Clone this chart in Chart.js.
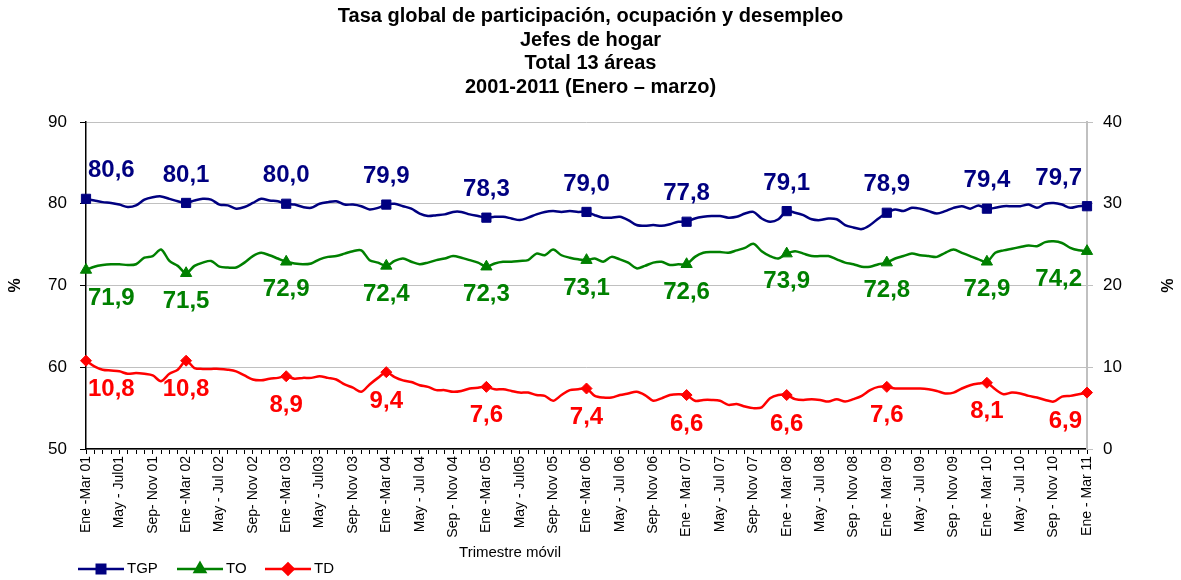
<!DOCTYPE html>
<html><head><meta charset="utf-8">
<script src="https://cdn.jsdelivr.net/npm/chart.js@4.4.0/dist/chart.umd.min.js"></script>
<style>html,body{margin:0;padding:0;background:#fff}canvas{display:block}</style>
</head><body>
<canvas id="c" width="1181" height="580"></canvas>
<script>
// ---- Data ----
const monthAbbr = ['Ene','Feb','Mar','Abr','May','Jun','Jul','Ago','Sep','Oct','Nov','Dic'];
const tickLabels = [
 'Ene -Mar 01','May - Jul01','Sep- Nov 01',
 'Ene -Mar 02','May - Jul 02','Sep- Nov 02',
 'Ene -Mar 03','May - Jul03','Sep- Nov 03',
 'Ene -Mar 04','May - Jul 04','Sep - Nov 04',
 'Ene -Mar 05','May - Jul05','Sep- Nov 05',
 'Ene -Mar 06','May - Jul 06','Sep- Nov 06',
 'Ene - Mar 07','May - Jul 07','Sep- Nov 07',
 'Ene - Mar 08','May - Jul 08','Sep - Nov 08',
 'Ene - Mar 09','May - Jul 09','Sep - Nov 09',
 'Ene - Mar 10','May - Jul 10','Sep - Nov 10',
 'Ene - Mar 11'
];
const categories = [];
for (let k = 0; k <= 120; k++) {
  const y = 2001 + Math.floor((k + 2) / 12);
  categories.push(monthAbbr[k % 12] + ' - ' + monthAbbr[(k + 2) % 12] + ' ' + String(y).slice(2));
}
const tgp = [
 80.6,80.4,80.2,80.1,79.9,79.6,79.8,80.5,80.8,80.9,80.6,80.3,
 80.1,80.4,80.6,80.5,79.9,79.8,79.4,79.6,80.1,80.6,80.4,80.3,
 80.0,79.9,79.6,79.5,80.0,80.2,80.3,79.9,79.9,79.7,79.3,79.5,
 79.9,80.0,79.7,79.4,78.8,78.5,78.6,78.7,79.0,79.0,78.7,78.5,
 78.3,78.4,78.4,78.2,78.0,78.3,78.7,79.0,79.1,79.0,79.1,79.0,
 79.0,78.6,78.3,78.3,78.4,78.0,77.4,77.3,77.4,77.3,77.5,77.8,
 77.8,78.2,78.4,78.5,78.5,78.3,78.4,78.8,79.0,78.2,77.8,78.1,
 79.1,78.9,78.6,78.1,78.0,78.2,78.1,77.4,77.1,76.9,77.4,78.2,
 78.9,79.3,79.1,79.5,79.4,79.1,78.8,79.1,79.5,79.7,79.4,79.8,
 79.4,79.5,79.7,79.7,79.7,79.9,79.5,80.0,80.1,79.9,79.5,79.7,
 79.7
];
const to = [
 71.9,72.3,72.5,72.6,72.6,72.5,72.6,73.4,73.6,74.4,73.0,72.4,
 71.5,72.4,72.8,73.0,72.3,72.2,72.2,72.8,73.6,74.0,73.7,73.3,
 72.9,72.7,72.6,72.7,73.2,73.5,73.6,73.9,74.2,74.3,73.1,72.8,
 72.4,73.0,73.3,72.9,72.6,72.8,73.1,73.3,73.6,73.4,73.1,72.8,
 72.3,72.7,72.9,72.9,73.0,73.1,73.9,73.7,74.4,73.7,73.4,73.2,
 73.1,73.3,72.9,73.5,73.2,72.8,72.1,72.4,72.8,72.9,72.5,72.6,
 72.6,73.5,74.0,74.1,74.1,74.0,74.3,74.6,75.1,74.2,73.6,73.3,
 73.9,74.2,73.9,73.6,73.6,73.6,73.2,72.8,72.6,72.3,72.3,72.6,
 72.8,73.3,73.6,73.9,73.7,73.6,73.5,74.0,74.4,74.0,73.6,73.2,
 72.9,74.0,74.3,74.5,74.7,74.9,74.8,75.3,75.4,75.2,74.6,74.3,
 74.2
];
const td = [
 10.8,10.1,9.7,9.6,9.5,9.2,9.3,9.2,9.0,8.3,9.2,9.7,
 10.8,9.9,9.8,9.8,9.8,9.7,9.5,9.0,8.5,8.4,8.6,8.7,
 8.9,8.6,8.7,8.7,8.9,8.7,8.5,7.9,7.5,7.0,7.9,8.7,
 9.4,8.8,8.4,8.2,7.8,7.6,7.2,7.2,7.0,7.1,7.4,7.5,
 7.6,7.3,7.3,7.1,6.9,6.9,6.6,6.5,5.9,6.6,7.2,7.3,
 7.4,6.5,6.3,6.3,6.6,6.8,7.0,6.6,5.9,6.2,6.6,6.7,
 6.6,5.9,6.0,6.0,5.9,5.4,5.5,5.2,5.0,5.1,6.2,6.6,
 6.6,6.1,6.0,6.1,6.0,5.8,6.1,5.8,6.1,6.5,7.2,7.6,
 7.6,7.4,7.4,7.4,7.4,7.3,7.1,6.8,6.9,7.4,7.8,8.0,
 8.1,7.3,6.7,6.9,6.8,6.5,6.3,6.0,5.8,6.4,6.5,6.7,
 6.9
];
const leftTicks = [50, 60, 70, 80, 90];
const rightTicks = [0, 10, 20, 30, 40];
const titleLines = ['Tasa global de participación, ocupación y desempleo','Jefes de hogar','Total 13 áreas','2001-2011 (Enero – marzo)'];

// ---- Styling ----
const FONT = '"Liberation Sans", Arial, sans-serif';
Chart.defaults.font.family = FONT;
Chart.defaults.color = '#000';
const isMarker = c => c.dataIndex % 12 === 0;

const valueLabels = {
  id: 'valueLabels',
  afterDatasetsDraw(chart) {
    const ctx = chart.ctx, area = chart.chartArea;
    ctx.save();
    ctx.font = 'bold 24px ' + FONT;
    ctx.textBaseline = 'middle';
    ctx.textAlign = 'left';
    chart.data.datasets.forEach((ds, di) => {
      const meta = chart.getDatasetMeta(di);
      meta.data.forEach((pt, i) => {
        if (i % 12 !== 0) return;
        const txt = ds.data[i].toFixed(1).replace('.', ',');
        const w = ctx.measureText(txt).width;
        let x = pt.x - w / 2;
        x = Math.max(x, area.left + 2);
        x = Math.min(x, area.right - 5 - w);
        ctx.fillStyle = ds.borderColor;
        ctx.fillText(txt, x, pt.y + ds.labelOffset);
      });
    });
    ctx.restore();
  }
};

const extras = {
  id: 'extras',
  afterDraw(chart) {
    const ctx = chart.ctx;
    ctx.save();
    ctx.fillStyle = '#000';
    ctx.font = '15px ' + FONT;
    ctx.textAlign = 'center';
    ctx.textBaseline = 'middle';
    ctx.fillText('Trimestre móvil', 510, 553);
    // legend
    const items = [[78, 0], [177, 1], [265, 2]];
    const ly = 569;
    items.forEach(([x0, di]) => {
      const ds = chart.data.datasets[di];
      ctx.strokeStyle = ds.borderColor;
      ctx.lineWidth = 2.5;
      ctx.beginPath(); ctx.moveTo(x0, ly); ctx.lineTo(x0 + 46, ly); ctx.stroke();
      ctx.fillStyle = ds.borderColor;
      Chart.helpers.drawPoint(ctx, {pointStyle: ds.pointStyle, radius: ds.legendRadius, borderWidth: 1}, x0 + 23, ly);
      ctx.fillStyle = '#000';
      ctx.textAlign = 'left';
      ctx.font = '15px ' + FONT;
      ctx.fillText(ds.label, x0 + 49, ly);
    });
    ctx.restore();
  }
};

new Chart(document.getElementById('c'), {
  type: 'line',
  data: {
    labels: categories,
    datasets: [
      {label: 'TGP', data: tgp, yAxisID: 'y', borderColor: '#000080', backgroundColor: '#000080',
       pointStyle: 'rect', legendRadius: 6, labelOffset: -28,
       pointRadius: c => isMarker(c) ? 6.5 : 0},
      {label: 'TO', data: to, yAxisID: 'y', borderColor: '#008000', backgroundColor: '#008000',
       pointStyle: 'triangle', legendRadius: 6, labelOffset: 28,
       pointRadius: c => isMarker(c) ? 6.5 : 0},
      {label: 'TD', data: td, yAxisID: 'y1', borderColor: '#FF0000', backgroundColor: '#FF0000',
       pointStyle: 'rectRot', legendRadius: 5.5, labelOffset: 29,
       pointRadius: c => isMarker(c) ? 5.5 : 0}
    ]
  },
  options: {
    responsive: false,
    animation: false,
    devicePixelRatio: 1,
    layout: {padding: {left: 0, right: 0, top: 0, bottom: 26}},
    elements: {
      line: {borderWidth: 2.5, tension: 0.3},
      point: {borderWidth: 1, hoverRadius: 0}
    },
    plugins: {
      legend: {display: false},
      tooltip: {enabled: false},
      title: {display: true, text: titleLines, color: '#000',
        font: {size: 20, weight: 'bold', lineHeight: 1.175}, padding: {top: 5, bottom: 23}}
    },
    scales: {
      x: {
        offset: false,
        grid: {drawOnChartArea: false, drawTicks: true, tickLength: 5, tickColor: '#000'},
        border: {color: '#000', width: 1.5},
        ticks: {autoSkip: false, maxRotation: 90, minRotation: 90, padding: 2,
          font: {size: 14}, color: '#000',
          callback: (v, i) => i % 4 === 0 ? tickLabels[i / 4] : ''},
        afterFit: s => { s.height = 105; }
      },
      y: {
        position: 'left', min: 50, max: 90,
        afterBuildTicks: s => { s.ticks = leftTicks.map(v => ({value: v})); },
        grid: {color: '#c0c0c0', lineWidth: 1, tickLength: 6, tickColor: '#000'},
        border: {color: '#000', width: 1.5},
        ticks: {font: {size: 17}, padding: 13, color: '#000'},
        title: {display: true, text: '%', font: {size: 16, weight: 'bold'}, padding: {top: 6, bottom: 0}},
        afterFit: s => { s.width = 86; }
      },
      y1: {
        position: 'right', min: 0, max: 40,
        afterBuildTicks: s => { s.ticks = rightTicks.map(v => ({value: v})); },
        grid: {drawOnChartArea: false, tickLength: 6, tickColor: '#c0c0c0'},
        border: {color: '#c0c0c0', width: 2},
        ticks: {font: {size: 17}, padding: 10, color: '#000'},
        title: {display: true, text: '%', font: {size: 16, weight: 'bold'}, padding: {top: 6, bottom: 0}},
        afterFit: s => { s.width = 94; }
      }
    }
  },
  plugins: [valueLabels, extras]
});
</script>
</body></html>
